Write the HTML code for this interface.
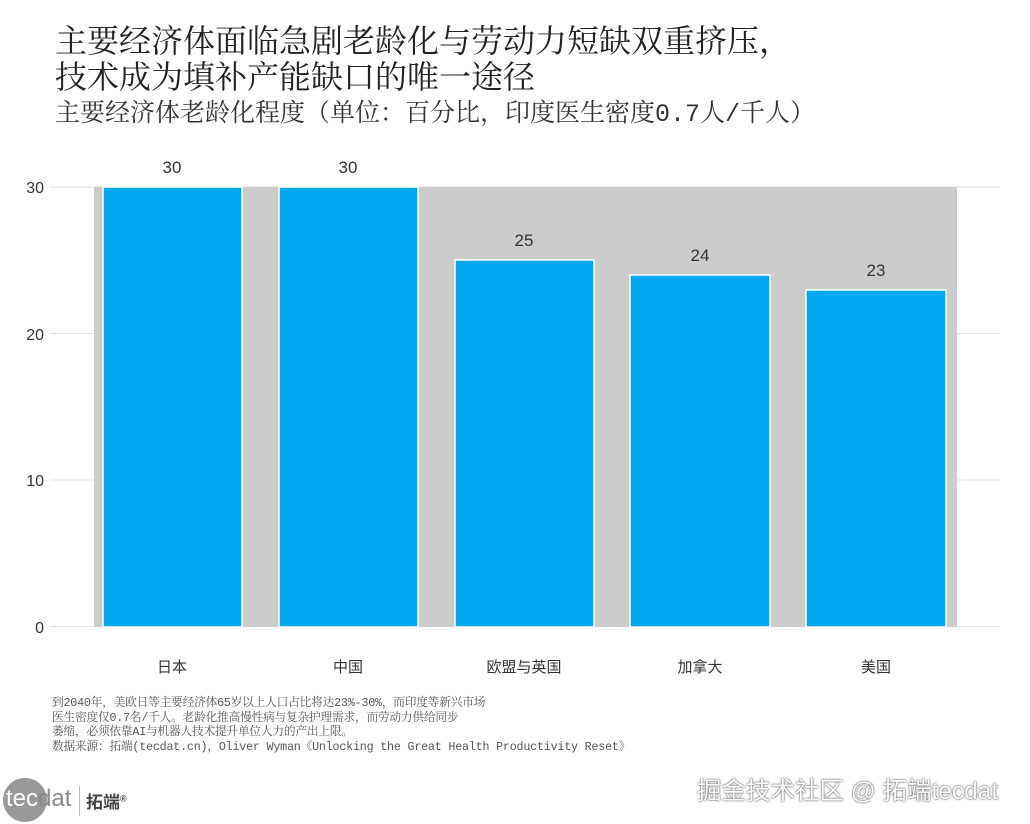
<!DOCTYPE html>
<html><head><meta charset="utf-8"><style>
body{margin:0;background:#fff;width:1030px;height:824px;overflow:hidden;position:relative;font-family:"Liberation Sans","Noto Sans CJK SC",sans-serif}
.t{position:absolute;white-space:nowrap;color:#222}
</style></head><body>
<div class="t" style="left:55px;top:21px;font-size:32px;line-height:36px;font-family:'Noto Serif CJK SC',serif">主要经济体面临急剧老龄化与劳动力短缺双重挤压，<br>技术成为填补产能缺口的唯一途径</div>
<div class="t" style="left:55px;top:93px;font-size:25px;font-family:'Liberation Mono','Noto Serif CJK SC',serif;color:#333">主要经济体老龄化程度（单位：百分比，印度医生密度0.7人/千人）</div>
<svg width="1030" height="824" style="position:absolute;left:0;top:0">
<g stroke="#e0e0e0" stroke-width="1">
<line x1="50" x2="1000" y1="187" y2="187"/><line x1="50" x2="1000" y1="333.5" y2="333.5"/><line x1="50" x2="1000" y1="480" y2="480"/><line x1="50" x2="1000" y1="626.5" y2="626.5"/>
</g>
<rect x="94" y="187" width="863" height="440" fill="#cccccc"/>
<g fill="#00a8f0" stroke="#fff" stroke-width="1.5">
<rect x="103" y="187" width="139" height="440"/>
<rect x="279" y="187" width="139" height="440"/>
<rect x="455" y="260" width="139" height="367"/>
<rect x="630" y="275" width="140" height="352"/>
<rect x="806" y="290" width="140" height="337"/>
</g>
<g font-family="Liberation Sans,sans-serif" font-size="16" fill="#333" text-anchor="end">
<text x="44" y="193">30</text><text x="44" y="340">20</text><text x="44" y="486">10</text><text x="44" y="633">0</text>
</g>
<g font-family="Liberation Sans,sans-serif" font-size="17" fill="#333" text-anchor="middle">
<text x="172" y="173">30</text><text x="348" y="173">30</text><text x="524" y="246">25</text><text x="700" y="261">24</text><text x="876" y="276">23</text>
</g>
<g font-family="Noto Sans CJK SC,sans-serif" font-size="15" fill="#333" text-anchor="middle">
<text x="172" y="672">日本</text><text x="348" y="672">中国</text><text x="524" y="672">欧盟与英国</text><text x="700" y="672">加拿大</text><text x="876" y="672">美国</text>
</g>
<circle cx="25" cy="800" r="22" fill="#999"/>
</svg>
<div class="t" style="left:52px;top:696px;font-size:11.7px;line-height:14.5px;color:#555;font-family:'Liberation Mono','Noto Serif CJK SC',serif;letter-spacing:-0.2px">到2040年，美欧日等主要经济体65岁以上人口占比将达23%-30%，而印度等新兴市场<br>医生密度仅0.7名/千人。老龄化推高慢性病与复杂护理需求，而劳动力供给同步<br>萎缩，必须依靠AI与机器人技术提升单位人力的产出上限。<br>数据来源：拓端(tecdat.cn)，Oliver Wyman《Unlocking the Great Health Productivity Reset》</div>
<div class="t" style="left:6px;top:785px;font-size:24px;color:#fff">tec<span style="color:#888">dat</span></div>
<div style="position:absolute;left:79px;top:786px;width:1px;height:30px;background:#bbb"></div>
<div class="t" style="left:86px;top:788px;font-size:17px;font-weight:bold;color:#444">拓端<sup style="font-size:9px">®</sup></div>
<div class="t" style="left:697px;top:772px;font-size:24.5px;color:#fff;text-shadow:0 0 2px #555,0 0 1px #555">掘金技术社区 @ 拓端tecdat</div>
</body></html>
